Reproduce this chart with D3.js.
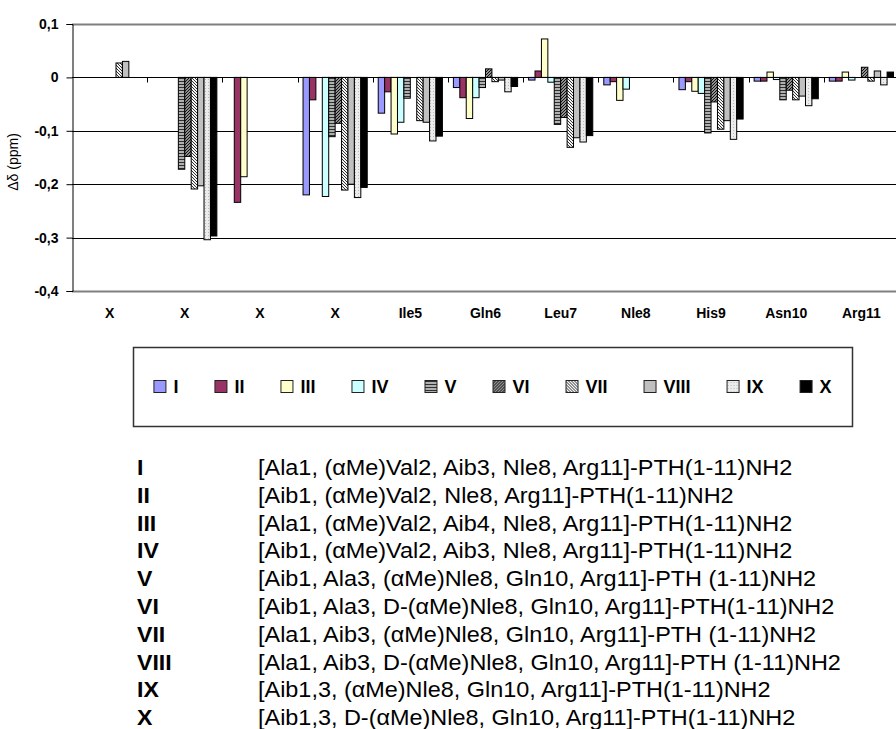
<!DOCTYPE html>
<html>
<head>
<meta charset="utf-8">
<script src="https://cdn.jsdelivr.net/npm/d3@7"></script>
<style>
  body { margin: 0; background: #fff; }
  svg { display: block; font-family: "Liberation Sans", Arial, sans-serif; }
</style>
</head>
<body>
<svg id="chart" width="896" height="729"></svg>
<script>
// residue labels on the category axis (first four are unassigned "X")
const categories = ["X", "X", "X", "X", "Ile5", "Gln6", "Leu7", "Nle8", "His9", "Asn10", "Arg11"];
const seriesNames = ["I", "II", "III", "IV", "V", "VI", "VII", "VIII", "IX", "X"];

// Δδ (ppm) per residue, null = no bar
const valuesI    = [null, null, null, -0.220, -0.067, -0.019, -0.005, -0.014, -0.023, -0.007, -0.007];
const valuesII   = [null, null, -0.234, -0.042, -0.027, -0.038, 0.012, -0.008, -0.008, -0.007, -0.007];
const valuesIII  = [null, null, -0.186, null, -0.106, -0.077, 0.072, -0.043, -0.026, 0.010, 0.010];
const valuesIV   = [null, null, null, -0.223, -0.084, -0.038, -0.009, -0.022, -0.030, -0.004, -0.005];
const valuesV    = [null, -0.172, null, -0.111, -0.039, -0.019, -0.088, null, -0.104, -0.042, null];
const valuesVI   = [null, -0.148, null, -0.086, null, 0.016, -0.075, null, -0.046, -0.024, 0.019];
const valuesVII  = [0.027, -0.209, null, -0.211, -0.081, -0.008, -0.131, null, -0.097, -0.042, -0.007];
const valuesVIII = [0.030, -0.203, null, -0.200, -0.084, -0.005, -0.113, null, -0.081, -0.035, 0.012];
const valuesIX   = [null, -0.304, null, -0.225, -0.119, -0.027, -0.121, null, -0.116, -0.053, -0.014];
const valuesX    = [null, -0.297, null, -0.206, -0.110, -0.017, -0.109, null, -0.078, -0.040, 0.010];

const yTicks = [0.1, 0, -0.1, -0.2, -0.3, -0.4];

const compounds = [
  "[Ala1, (αMe)Val2, Aib3, Nle8, Arg11]-PTH(1-11)NH2",
  "[Aib1, (αMe)Val2, Nle8, Arg11]-PTH(1-11)NH2",
  "[Ala1, (αMe)Val2, Aib4, Nle8, Arg11]-PTH(1-11)NH2",
  "[Aib1, (αMe)Val2, Aib3, Nle8, Arg11]-PTH(1-11)NH2",
  "[Aib1, Ala3, (αMe)Nle8, Gln10, Arg11]-PTH (1-11)NH2",
  "[Aib1, Ala3, D-(αMe)Nle8, Gln10, Arg11]-PTH(1-11)NH2",
  "[Ala1, Aib3, (αMe)Nle8, Gln10, Arg11]-PTH (1-11)NH2",
  "[Ala1, Aib3, D-(αMe)Nle8, Gln10, Arg11]-PTH (1-11)NH2",
  "[Aib1,3, (αMe)Nle8, Gln10, Arg11]-PTH(1-11)NH2",
  "[Aib1,3, D-(αMe)Nle8, Gln10, Arg11]-PTH(1-11)NH2"
];

const allValues = [valuesI, valuesII, valuesIII, valuesIV, valuesV,
  valuesVI, valuesVII, valuesVIII, valuesIX, valuesX];

const fills = ["#9999ff", "#993366", "#ffffcc", "#ccffff", "url(#pV)",
  "url(#pVI)", "url(#pVII)", "#c0c0c0", "url(#pIX)", "#000000"];

const svg = d3.select("#chart");
const plot = { left: 72, right: 899, top: 24, bottom: 291 };

// excel-like fill patterns
const defs = svg.append("defs");
let p = defs.append("pattern").attr("id", "pV").attr("patternUnits", "userSpaceOnUse")
  .attr("width", 4).attr("height", 3);
p.append("rect").attr("width", 4).attr("height", 3).attr("fill", "#b0b0b0");
p.append("rect").attr("width", 4).attr("height", 1).attr("fill", "#303030");

p = defs.append("pattern").attr("id", "pVI").attr("patternUnits", "userSpaceOnUse")
  .attr("width", 3).attr("height", 3);
p.append("rect").attr("width", 3).attr("height", 3).attr("fill", "#909090");
p.append("path").attr("d", "M0,3 L3,0 M-1,1 L1,-1 M2,4 L4,2").attr("stroke", "#111").attr("stroke-width", 1);

p = defs.append("pattern").attr("id", "pVII").attr("patternUnits", "userSpaceOnUse")
  .attr("width", 3).attr("height", 3);
p.append("rect").attr("width", 3).attr("height", 3).attr("fill", "#f4f4f4");
p.append("path").attr("d", "M0,0 L3,3 M-1,2 L1,4 M2,-1 L4,1").attr("stroke", "#333").attr("stroke-width", 1);

p = defs.append("pattern").attr("id", "pIX").attr("patternUnits", "userSpaceOnUse")
  .attr("width", 3).attr("height", 3);
p.append("rect").attr("width", 3).attr("height", 3).attr("fill", "#ececec");
p.append("rect").attr("x", 1).attr("y", 1).attr("width", 1).attr("height", 1).attr("fill", "#b8b8b8");

const x0 = d3.scaleBand()
  .domain(d3.range(categories.length))
  .range([plot.left, plot.right]);

const x1 = d3.scaleBand()
  .domain(seriesNames)
  .range([5.5, x0.bandwidth() - 5.5]);

const y = d3.scaleLinear()
  .domain([-0.4, 0.1])
  .range([plot.bottom, plot.top]);

const fmt = v => (v === 0 ? "0" : d3.format(".1f")(v).replace(".", ",").replace("−", "-"));

// gridlines (top and bottom ones are the grey plot border)
svg.append("g")
  .selectAll("line")
  .data(yTicks)
  .join("line")
  .attr("x1", plot.left)
  .attr("x2", 896)
  .attr("y1", d => Math.round(y(d)) + 0.5)
  .attr("y2", d => Math.round(y(d)) + 0.5)
  .attr("stroke", d => (d === 0.1 || d === -0.4 ? "#808080" : "#000"))
  .attr("stroke-width", d => (d === 0.1 || d === -0.4 ? 2 : 1));

// bars
const barG = svg.append("g");
seriesNames.forEach((name, si) => {
  const rows = allValues[si]
    .map((v, ci) => ({ ci, v }))
    .filter(d => d.v !== null);
  barG.append("g")
    .selectAll("rect")
    .data(rows)
    .join("rect")
    .attr("x", d => x0(d.ci) + x1(name))
    .attr("width", x1.bandwidth())
    .attr("y", d => y(Math.max(d.v, 0)))
    .attr("height", d => Math.abs(y(d.v) - y(0)))
    .attr("fill", fills[si])
    .attr("stroke", "#000")
    .attr("stroke-width", 1);
});

// category axis at zero, ticks between categories
const zeroY = Math.round(y(0)) + 0.5;
svg.append("line")
  .attr("x1", plot.left).attr("x2", 896)
  .attr("y1", zeroY).attr("y2", zeroY)
  .attr("stroke", "#000");
svg.append("g")
  .selectAll("line")
  .data(d3.range(1, categories.length))
  .join("line")
  .attr("x1", d => Math.round(x0(d)) + 0.5)
  .attr("x2", d => Math.round(x0(d)) + 0.5)
  .attr("y1", zeroY)
  .attr("y2", zeroY + 5)
  .attr("stroke", "#000");

// value axis
const yAxis = svg.append("g")
  .attr("transform", `translate(${plot.left + 0.5},0)`)
  .call(d3.axisLeft(y).tickValues(yTicks).tickFormat(fmt).tickSize(6).tickPadding(8));
yAxis.select(".domain").attr("stroke", "#000");
yAxis.selectAll(".tick line").attr("stroke", "#000");
yAxis.selectAll(".tick text")
  .attr("font-family", "Liberation Sans, Arial, sans-serif")
  .attr("font-size", 14)
  .attr("font-weight", "bold")
  .attr("fill", "#000");

svg.append("text")
  .attr("transform", "translate(18,162) rotate(-90)")
  .attr("text-anchor", "middle")
  .attr("font-size", 14)
  .text("Δδ (ppm)");

// category labels
svg.append("g")
  .selectAll("text")
  .data(categories)
  .join("text")
  .attr("x", (d, i) => x0(i) + x0.bandwidth() / 2)
  .attr("y", 318)
  .attr("text-anchor", "middle")
  .attr("font-size", 14)
  .attr("font-weight", "bold")
  .text(d => d);

// legend
const box = { x: 133, y: 347, w: 719, h: 79 };
svg.append("rect")
  .attr("x", box.x + 0.5).attr("y", box.y + 0.5)
  .attr("width", box.w).attr("height", box.h)
  .attr("fill", "#fff")
  .attr("stroke", "#333")
  .attr("stroke-width", 1.5);

const legend = svg.append("g");
let cursor = 0;
seriesNames.forEach((name, si) => {
  const item = legend.append("g").attr("transform", `translate(${cursor},0)`);
  item.append("rect")
    .attr("x", 0.5).attr("y", 380.5)
    .attr("width", 12).attr("height", 12)
    .attr("fill", fills[si])
    .attr("stroke", "#222");
  const t = item.append("text")
    .attr("x", 20).attr("y", 393)
    .attr("font-size", 18)
    .attr("font-weight", "bold")
    .text(name);
  cursor += 20 + t.node().getComputedTextLength() + 36;
});
const legendWidth = cursor - 36;
legend.attr("transform", `translate(${box.x + (box.w - legendWidth) / 2},0)`);

// compound key below the chart (text is a bit wider than plain Arial)
const key = svg.append("g");
compounds.forEach((c, i) => {
  const by = 475 + i * 27.8;
  key.append("text")
    .attr("transform", `translate(137,${by}) scale(1.05,1)`)
    .attr("font-size", 22)
    .attr("font-weight", "bold")
    .text(seriesNames[i]);
  key.append("text")
    .attr("transform", `translate(258,${by}) scale(1.065,1)`)
    .attr("font-size", 22)
    .text(c);
});
</script>
</body>
</html>
